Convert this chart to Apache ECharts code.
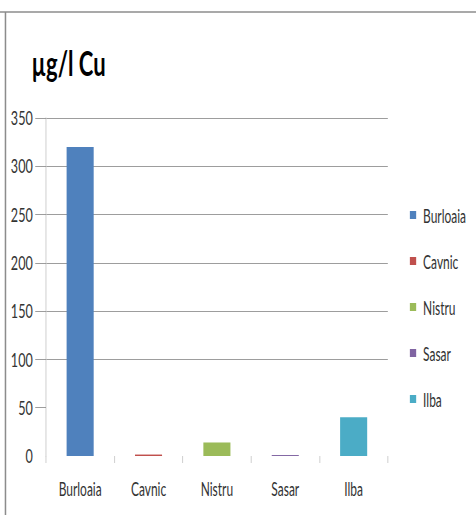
<!DOCTYPE html>
<html>
<head>
<meta charset="utf-8">
<script src="https://cdn.jsdelivr.net/npm/echarts@6/dist/echarts.min.js"></script>
<style>
html,body{margin:0;padding:0;background:#fff;overflow:hidden;}
#c{width:756px;height:515px;transform:scaleX(0.6296);transform-origin:0 0;}
</style>
</head>
<body>
<div id="c"></div>
<script>
var categories = ['Burloaia', 'Cavnic', 'Nistru', 'Sasar', 'Ilba'];
var values = [320, 1.5, 14, 1, 40];
var colors = ['#4f81bd', '#c0504d', '#9bbb59', '#8064a2', '#4bacc6'];
var yTicks = [0, 50, 100, 150, 200, 250, 300, 350];

// The reference is horizontally compressed (about 0.63); the chart is laid out
// 756 px wide and squeezed to 476 px with a CSS transform.
var FONT = 'Lato, "Open Sans", "Liberation Sans", sans-serif';

var series = categories.map(function (name, i) {
  var d = categories.map(function (c, j) { return j === i ? values[i] : '-'; });
  return {
    name: name,
    type: 'bar',
    stack: 'all',
    barWidth: 43,
    data: d,
    itemStyle: { color: colors[i] }
  };
});

var chart = echarts.init(document.getElementById('c'), null, { renderer: 'svg', width: 756, height: 515 });
chart.setOption({
  animation: false,
  backgroundColor: '#fff',
  title: {
    text: 'µg/l Cu',
    left: 50,
    top: 45,
    padding: 0,
    textStyle: { fontFamily: FONT, fontSize: 35, fontWeight: 'bold', color: '#000' }
  },
  legend: {
    orient: 'vertical',
    left: 651,
    top: 205,
    padding: 0,
    itemWidth: 10,
    itemHeight: 8,
    itemGap: 26,
    icon: 'rect',
    textStyle: { fontFamily: FONT, fontSize: 19, lineHeight: 20, color: '#333', padding: [0, 0, 0, 6] },
    data: categories
  },
  grid: { left: 73, right: 140, top: 118, bottom: 59 },
  xAxis: {
    type: 'category',
    data: categories,
    axisLine: { show: false },
    axisTick: { show: true, length: 7, lineStyle: { color: '#d0d0d0', width: 1.6 } },
    axisLabel: { fontFamily: FONT, fontSize: 19, color: '#333', margin: 23 }
  },
  yAxis: {
    type: 'value',
    min: yTicks[0],
    max: yTicks[yTicks.length - 1],
    interval: 50,
    axisLine: { show: true, lineStyle: { color: '#d0d0d0', width: 1.6 } },
    axisTick: { show: true, length: 17, customValues: yTicks.slice(1), lineStyle: { color: '#868686' } },
    axisLabel: { fontFamily: FONT, fontSize: 20, color: '#333', margin: 21 },
    splitLine: {
      show: true,
      lineStyle: { color: ['rgba(0,0,0,0)', '#868686', '#868686', '#868686', '#868686', '#868686', '#868686', '#868686'], width: 1 }
    }
  },
  graphic: [
    { type: 'line', shape: { x1: 0, y1: 12, x2: 756, y2: 12 }, style: { stroke: '#8c8c8c', lineWidth: 1.5 } },
    { type: 'line', shape: { x1: 8.7, y1: 12, x2: 8.7, y2: 515 }, style: { stroke: '#8c8c8c', lineWidth: 2.4 } }
  ],
  series: series
});
</script>
</body>
</html>
